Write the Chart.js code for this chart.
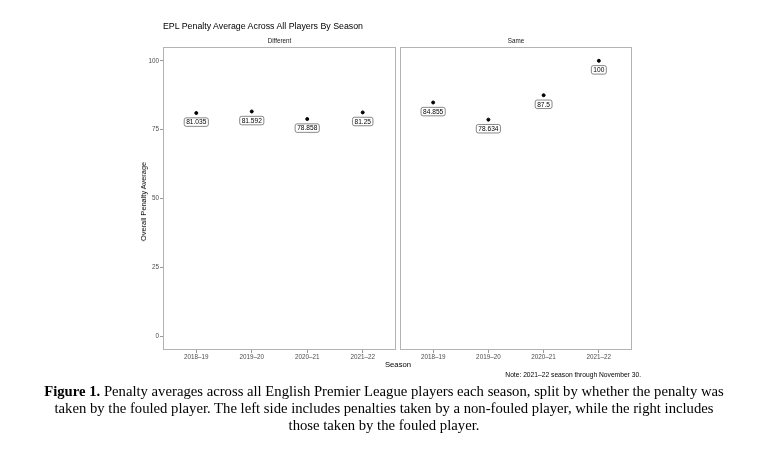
<!DOCTYPE html>
<html>
<head>
<meta charset="utf-8">
<script src="https://cdn.jsdelivr.net/npm/chart.js@4.4.0/dist/chart.umd.min.js"></script>
<style>
  body { margin: 0; background: #fff; }
  #wrap { position: relative; width: 768px; height: 451px; overflow: hidden; }
  .layer { position: absolute; left: 0; top: 0; width: 768px; height: 451px; }
  .txt { position: absolute; font-family: "Liberation Sans", Arial, sans-serif; color: #000; white-space: nowrap; }
  #title { left: 163px; top: 21px; font-size: 8.8px; }
  #ytitle { left: 139px; top: 162px; font-size: 7.4px; writing-mode: vertical-rl; transform: rotate(180deg); }
  #xtitle { left: 398px; top: 364px; font-size: 7.7px; transform: translate(-50%, -50%); }
  #note { right: 127px; top: 371px; font-size: 6.7px; }
  #caption { position: absolute; left: 0; top: 383px; width: 768px; text-align: center; font-family: "Liberation Serif", "Times New Roman", serif; font-size: 14.7px; line-height: 17px; color: #000; }
</style>
</head>
<body>
<div id="wrap">
  <div class="layer"><canvas id="left"></canvas></div>
  <div class="layer"><canvas id="right"></canvas></div>
  <div class="txt" id="title">EPL Penalty Average Across All Players By Season</div>
  <div class="txt" id="ytitle">Overall Penalty Average</div>
  <div class="txt" id="xtitle">Season</div>
  <div class="txt" id="note">Note: 2021–22 season through November 30.</div>
  <div id="caption"><b>Figure 1.</b> Penalty averages across all English Premier League players each season, split by whether the penalty was<br>taken by the fouled player. The left side includes penalties taken by a non-fouled player, while the right includes<br>those taken by the fouled player.</div>
</div>
<script>
const seasons = ['2018–19', '2019–20', '2020–21', '2021–22'];
const differentValues = [81.035, 81.592, 78.858, 81.25];
const sameValues = [84.855, 78.634, 87.5, 100];
const differentLabels = ['81.035', '81.592', '78.858', '81.25'];
const sameLabels = ['84.855', '78.634', '87.5', '100'];
const yTicks = [0, 25, 50, 75, 100];

const labelNudge = 3.3;
const FONT = '"Liberation Sans", Arial, sans-serif';

const panelPlugin = {
  id: 'panel',
  afterDraw(chart, args, opts) {
    const { ctx, chartArea: a } = chart;
    ctx.save();
    ctx.strokeStyle = '#b3b3b3';
    ctx.lineWidth = 1;
    ctx.strokeRect(a.left + 0.5, a.top + 0.5, a.right - a.left - 1, a.bottom - a.top - 1);
    ctx.fillStyle = '#1a1a1a';
    ctx.font = '6.3px ' + FONT;
    ctx.textAlign = 'center';
    ctx.textBaseline = 'middle';
    ctx.fillText(opts.strip, (a.left + a.right) / 2, a.top - 6);

    // value labels under each point
    const xs = chart.scales.x, ys = chart.scales.y;
    const data = chart.data.datasets[0].data;
    ctx.font = '6.6px ' + FONT;
    data.forEach((p, i) => {
      const txt = opts.labels[i];
      const cx = xs.getPixelForValue(p.x);
      const cy = ys.getPixelForValue(p.y - labelNudge);
      const w = ctx.measureText(txt).width + 4;
      const h = 8.5;
      ctx.beginPath();
      ctx.roundRect(cx - w / 2, cy - h / 2, w, h, 2);
      ctx.fillStyle = '#fff';
      ctx.fill();
      ctx.strokeStyle = '#555';
      ctx.lineWidth = 0.7;
      ctx.stroke();
      ctx.fillStyle = '#000';
      ctx.fillText(txt, cx, cy + 0.5);
    });
    ctx.restore();
  }
};

function makeChart(id, values, labels, strip, showY, pad) {
  return new Chart(document.getElementById(id), {
    type: 'scatter',
    data: {
      datasets: [{
        data: values.map((v, i) => ({ x: i + 1, y: v })),
        backgroundColor: '#000',
        borderColor: '#000',
        pointRadius: 1.5,
        pointHoverRadius: 1.5
      }]
    },
    options: {
      responsive: true,
      maintainAspectRatio: false,
      animation: false,
      events: [],
      layout: { padding: pad },
      plugins: {
        legend: { display: false },
        tooltip: { enabled: false },
        panel: { strip: strip, labels: labels }
      },
      scales: {
        x: {
          type: 'linear',
          min: 0.4,
          max: 4.6,
          afterBuildTicks: s => { s.ticks = seasons.map((_, i) => ({ value: i + 1 })); },
          afterFit: s => { s.height = 101; },
          ticks: {
            callback: v => seasons[v - 1],
            color: '#4d4d4d',
            font: { size: 6.3, family: FONT },
            padding: 0,
            maxRotation: 0
          },
          grid: { drawOnChartArea: false, color: '#999', tickLength: 3 },
          border: { display: false }
        },
        y: {
          display: showY,
          min: -5,
          max: 105,
          afterBuildTicks: s => { s.ticks = yTicks.map(v => ({ value: v })); },
          afterFit: s => { s.width = showY ? 163 : 0; },
          ticks: {
            color: '#4d4d4d',
            font: { size: 6.3, family: FONT },
            padding: 1
          },
          grid: { drawOnChartArea: false, color: '#999', tickLength: 3 },
          border: { display: false }
        }
      }
    },
    plugins: [panelPlugin]
  });
}

makeChart('left', differentValues, differentLabels, 'Different', true, { top: 47, left: 0, right: 372, bottom: 0 });
makeChart('right', sameValues, sameLabels, 'Same', false, { top: 47, left: 400, right: 136, bottom: 0 });
</script>
</body>
</html>
